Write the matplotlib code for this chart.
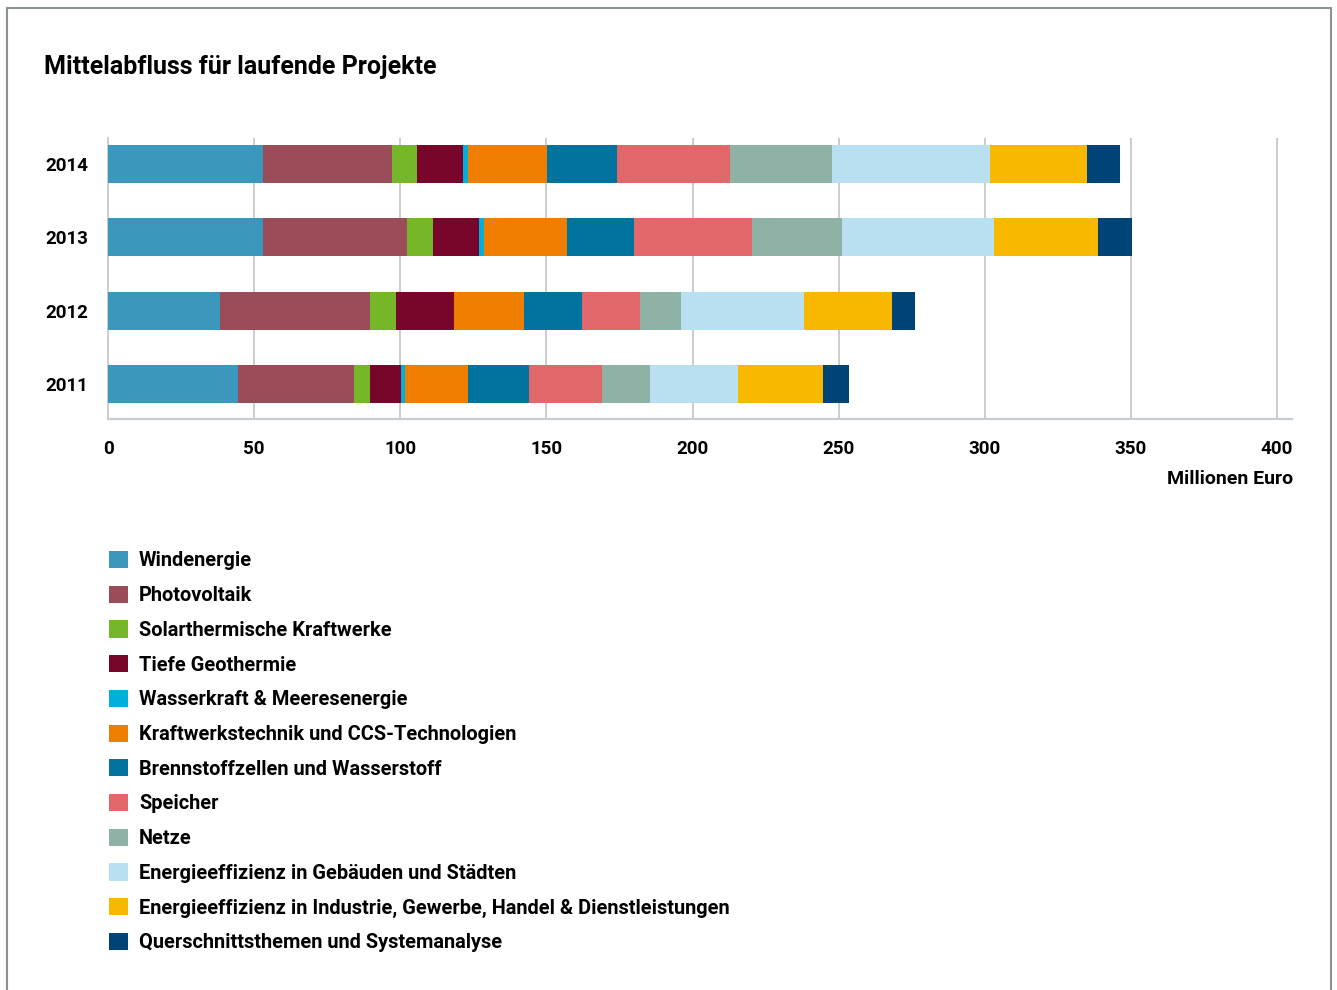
import numpy as np
import matplotlib
matplotlib.use("Agg")
import matplotlib.pyplot as plt
from matplotlib.patches import Patch, Rectangle

plt.rcParams['font.family'] = ['Roboto', 'DejaVu Sans']
plt.rcParams['font.weight'] = 'bold'

# -----------------------------
# Data (Millionen Euro)
# -----------------------------
years = ["2011", "2012", "2013", "2014"]
categories = [
    "Windenergie",
    "Photovoltaik",
    "Solarthermische Kraftwerke",
    "Tiefe Geothermie",
    "Wasserkraft & Meeresenergie",
    "Kraftwerkstechnik und CCS-Technologien",
    "Brennstoffzellen und Wasserstoff",
    "Speicher",
    "Netze",
    "Energieeffizienz in Gebäuden und Städten",
    "Energieeffizienz in Industrie, Gewerbe, Handel & Dienstleistungen",
    "Querschnittsthemen und Systemanalyse",
]
colors = ["#3a98bc", "#9a4c58", "#76b72a", "#78052a", "#00b0dc", "#ef7d00",
          "#00749f", "#e0686a", "#8eb2a5", "#b8e0f1", "#f9b800", "#004376"]

# one list per year, same order as categories
v2011 = [44.4, 39.9, 5.5, 10.3, 1.6, 21.4, 20.8, 25.0, 16.4, 30.2, 29.3, 8.6]
v2012 = [38.4, 51.3, 8.7, 20.1, 0.0, 24.0, 19.6, 20.0, 14.1, 42.0, 29.9, 8.1]
v2013 = [52.9, 49.3, 8.9, 16.0, 1.7, 28.1, 22.9, 40.5, 30.8, 51.9, 35.7, 11.6]
v2014 = [52.9, 44.2, 8.5, 16.0, 1.5, 27.0, 24.0, 38.6, 34.9, 54.3, 33.0, 11.2]

values = np.array([v2011, v2012, v2013, v2014])

W, H = 1337, 990
fig = plt.figure(figsize=(W / 100, H / 100), dpi=100)

# outer frame (bottom edge runs off the picture)
fig.patches.append(Rectangle((7 / W, -0.05), (1331 - 7) / W, 1 - 8 / H + 0.05,
                             transform=fig.transFigure, fill=False,
                             edgecolor="#8c9396", lw=1.5))

fig.text(44 / W, 1 - 67 / H, "Mittelabfluss für laufende Projekte",
         fontsize=18, fontweight='bold', va='center', ha='left')

ax_l, ax_r, ax_t, ax_b = 108, 1291.7, 138.3, 419.3
ax = fig.add_axes([ax_l / W, 1 - ax_b / H, (ax_r - ax_l) / W, (ax_b - ax_t) / H])

ypos = np.arange(len(years))
left = np.zeros(len(years))
for k, cat in enumerate(categories):
    ax.barh(ypos, values[:, k], left=left, height=0.515, color=colors[k],
            label=cat, zorder=3)
    left += values[:, k]

ax.set_xlim(0, 405)
ax.set_ylim(-0.48, 3.35)
ax.set_xticks(np.arange(0, 401, 50))
ax.set_yticks(ypos)
ax.set_yticklabels(years)
ax.tick_params(length=0, labelsize=13.5)
ax.tick_params(axis='x', pad=15)
ax.tick_params(axis='y', pad=14)
for lab in ax.get_xticklabels() + ax.get_yticklabels():
    lab.set_fontweight('bold')

ax.grid(axis='x', color="#c8cdd2", lw=1.4, zorder=0)
for s in ("top", "right"):
    ax.spines[s].set_visible(False)
ax.spines["left"].set_color("#c8cdd2")
ax.spines["left"].set_linewidth(1.4)
ax.spines["bottom"].set_color("#c8cdd2")
ax.spines["bottom"].set_linewidth(1.6)

fig.text(1293 / W, 1 - 479 / H, "Millionen Euro", fontsize=14,
         fontweight='bold', ha='right', va='center')

handles = [Patch(facecolor=c, edgecolor='none') for c in colors]
leg = fig.legend(handles, categories, loc='upper left',
                 bbox_to_anchor=(109 / W, 1 - 551 / H), frameon=False,
                 fontsize=14.4, handlelength=0.95, handleheight=0.95,
                 handletextpad=0.55, labelspacing=0.76, borderaxespad=0,
                 borderpad=0)
for t in leg.get_texts():
    t.set_fontweight('bold')

fig.savefig("out.png", dpi=100)
